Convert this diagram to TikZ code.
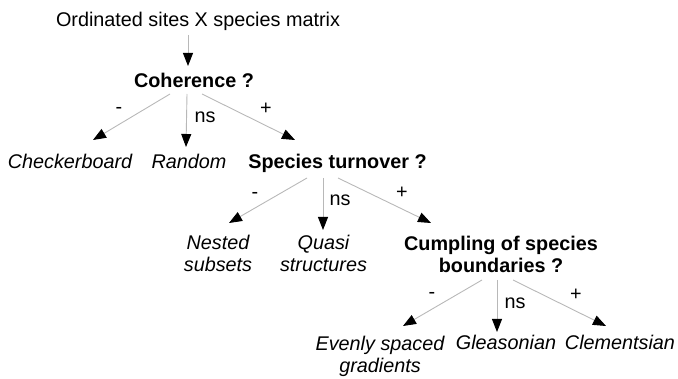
\documentclass[tikz,border=0pt]{standalone}
\usepackage{fontspec}
\setmainfont{Liberation Sans}
\usetikzlibrary{arrows.meta,calc}
\begin{document}
\begin{tikzpicture}[x=1pt,y=-1pt,
  txt/.style={inner sep=0pt, anchor=base, font=\fontsize{19.8}{22.5}\selectfont},
  quest/.style={txt, font=\fontsize{19.8}{22.5}\selectfont\bfseries, align=center},
  answer/.style={txt, font=\fontsize{19.8}{22.5}\selectfont\itshape, align=center},
  lab/.style={inner sep=0pt, font=\fontsize{19.8}{22.5}\selectfont},
  arr/.style={draw=black!28, line width=0.9pt, -{Triangle[length=13pt,width=10pt,color=black]}}]
\useasboundingbox (0,0) rectangle (678,379);
% nodes (multi-line nodes: base = baseline of last line)
\node[txt] (title) at (198,27) {Ordinated sites X species matrix};
\node[quest] (coh) at (194,88) {Coherence ?};
\node[answer] (chk) at (70,169) {Checkerboard};
\node[answer] (rnd) at (189,169) {Random};
\node[quest] (st) at (337.5,169) {Species turnover ?};
\node[answer] (nst) at (218,272) {Nested\\subsets};
\node[answer] (qs) at (323.5,272) {Quasi\\structures};
\node[quest] (cmp) at (501,273) {Cumpling of species\\boundaries ?};
\node[answer] (evn) at (380,373) {Evenly spaced\\gradients};
\node[answer] (gls) at (506,350) {Gleasonian};
\node[answer] (clm) at (620,350) {Clementsian};
% labels
\node[lab] (l1) at (119,110) {-};
\node[lab] (l2) at (205,117) {ns};
\node[lab] (l3) at (266,109) {+};
\node[lab] (l4) at (255,195) {-};
\node[lab] (l5) at (340,200) {ns};
\node[lab] (l6) at (402,193) {+};
\node[lab] (l7) at (432,295) {-};
\node[lab] (l8) at (515,303) {ns};
\node[lab] (l9) at (576,295) {+};
% connectors
\draw[arr] ($(title.base)+(-10,8)$) -- ($(coh.base)+(-6,-22)$);
\draw[arr] ($(coh.base)+(-24,6)$) -- ($(chk.base)+(23,-29)$);
\draw[arr] ($(coh.base)+(-7,6)$) -- ($(rnd.base)+(-3,-22)$);
\draw[arr] ($(coh.base)+(8,6)$) -- ($(st.base)+(-42.5,-29)$);
\draw[arr] ($(st.base)+(-30.5,9)$) -- ($(nst.base)+(11,-49)$);
\draw[arr] ($(st.base)+(-14.5,9)$) -- ($(qs.base)+(-0.5,-42)$);
\draw[arr] ($(st.base)+(0.5,9)$) -- ($(cmp.base)+(-70,-50)$);
\draw[arr] ($(cmp.base)+(-19,7)$) -- ($(evn.base)+(23,-47)$);
\draw[arr] ($(cmp.base)+(-4,7)$) -- ($(gls.base)+(-9,-18)$);
\draw[arr] ($(cmp.base)+(12,7)$) -- ($(clm.base)+(-14,-24)$);
\end{tikzpicture}
\end{document}
